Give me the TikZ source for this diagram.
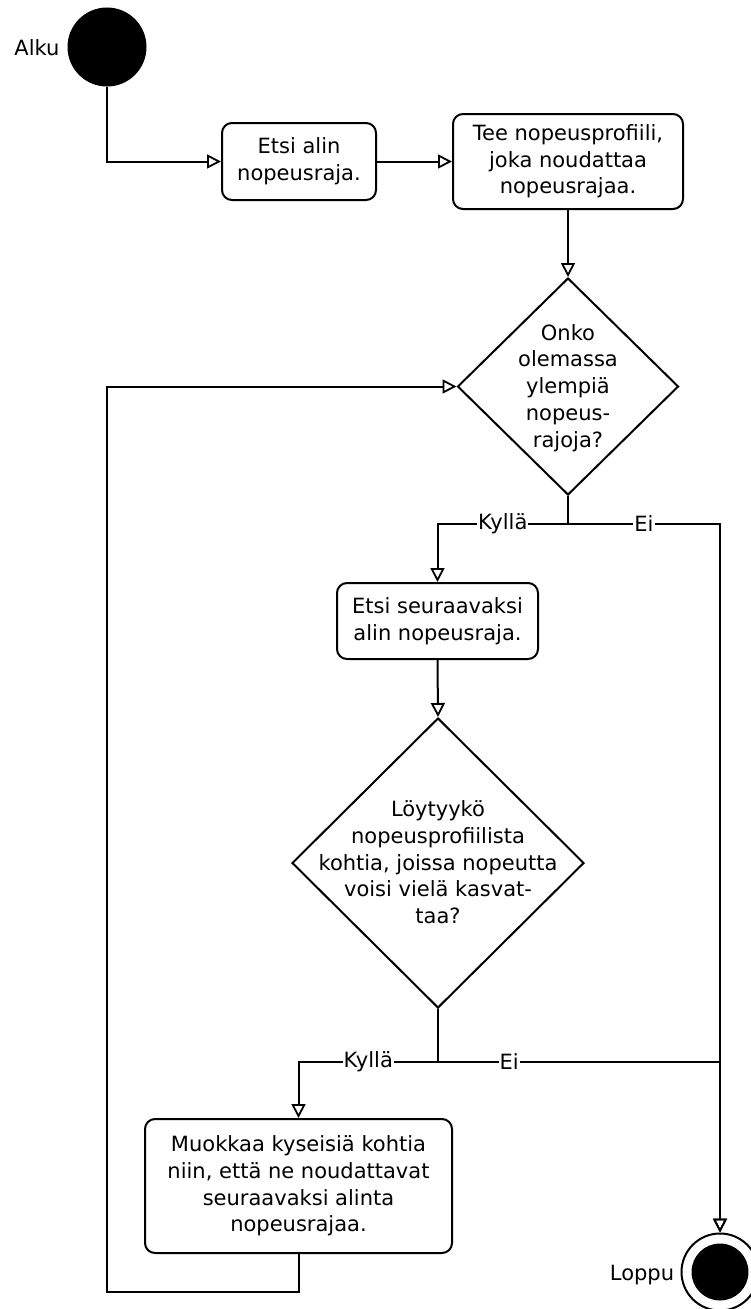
\documentclass[tikz,border=0pt]{standalone}
\usepackage{fontspec}
\setmainfont{DejaVu Sans}
\usetikzlibrary{arrows.meta,shapes.geometric}
\tikzset{
  txt/.style={font=\fontsize{21pt}{26.7pt}\selectfont},
  box/.style={txt, draw, line width=2pt, rounded corners=10pt, align=center, inner sep=0pt, fill=white},
  dia/.style={txt, draw, line width=2pt, diamond, aspect=1, inner sep=0pt, fill=white},
  startnode/.style={circle, draw, fill=black, minimum size=78pt, inner sep=0pt, line width=1pt},
  endnode/.style={circle, draw, fill=white, minimum size=77pt, inner sep=0pt, line width=2pt,
    path picture={\fill[black] (path picture bounding box.center) circle (28.5pt);}},
  lbl/.style={txt, fill=white, inner sep=1pt},
  plain/.style={txt, inner sep=0pt},
  arr/.style={line width=2pt, -{Triangle[open, length=14pt, width=14pt, line width=1.8pt]}},
  conn/.style={line width=2pt}
}
\newcommand{\dtext}[1]{\smash{\raisebox{-7pt}{\begin{tabular}{@{}c@{}}#1\end{tabular}}}}
\begin{document}
\begin{tikzpicture}[x=1pt,y=-1pt]
\useasboundingbox (0,0) rectangle (751,1309);

% nodes
\node[startnode] (start) at (107,47) {};
\node[plain] (alku) at (37,48) {Alku};
\node[box, minimum width=154pt, minimum height=77pt] (b1) at (299,161.5) {Etsi alin\\nopeusraja.};
\node[box, minimum width=230pt, minimum height=95pt] (b2) at (568,161.5) {Tee nopeusprofiili,\\joka noudattaa\\nopeusrajaa.};
\node[dia, minimum width=221pt, minimum height=217pt] (d1) at (568,386.5)
  {\dtext{Onko\\olemassa\\ylempiä\\nopeus-\\rajoja?}};
\node[box, minimum width=201pt, minimum height=76pt] (b3) at (437.5,621) {Etsi seuraavaksi\\alin nopeusraja.};
\node[dia, minimum width=292pt, minimum height=290pt] (d2) at (438,863)
  {\dtext{Löytyykö\\nopeusprofiilista\\kohtia, joissa nopeutta\\voisi vielä kasvat-\\taa?}};
\node[box, minimum width=307pt, minimum height=134pt] (b4) at (298.5,1186) {Muokkaa kyseisiä kohtia\\niin, että ne noudattavat\\seuraavaksi alinta\\nopeusrajaa.};
\node[endnode] (end) at (720,1272) {};
\node[plain] (loppu) at (642,1275) {Loppu};

% helper coordinates
\coordinate (s1) at (568,524);
\coordinate (s2) at (438,1062);
\coordinate (lp) at (107,1292);

% connectors
\draw[arr] (start.south) |- (b1.west);
\draw[arr] (b1.east) -- (b2.west);
\draw[arr] (b2.south) -- (d1.north);
\draw[conn] (d1.south) -- (s1);
\draw[arr] (s1) -| node[lbl, pos=0.25] {Kyllä} (b3.north);
\draw[arr] (s1) -| node[lbl, pos=0.25] {Ei} (end.north);
\draw[arr] (b3.south) -- (d2.north);
\draw[conn] (d2.south) -- (s2);
\draw[arr] (s2) -| node[lbl, pos=0.25] {Kyllä} (b4.north);
\draw[arr] (s2) -| node[lbl, pos=0.126] {Ei} (end.north);
\draw[arr] (b4.south) |- (lp) |- (d1.west);
\end{tikzpicture}
\end{document}
